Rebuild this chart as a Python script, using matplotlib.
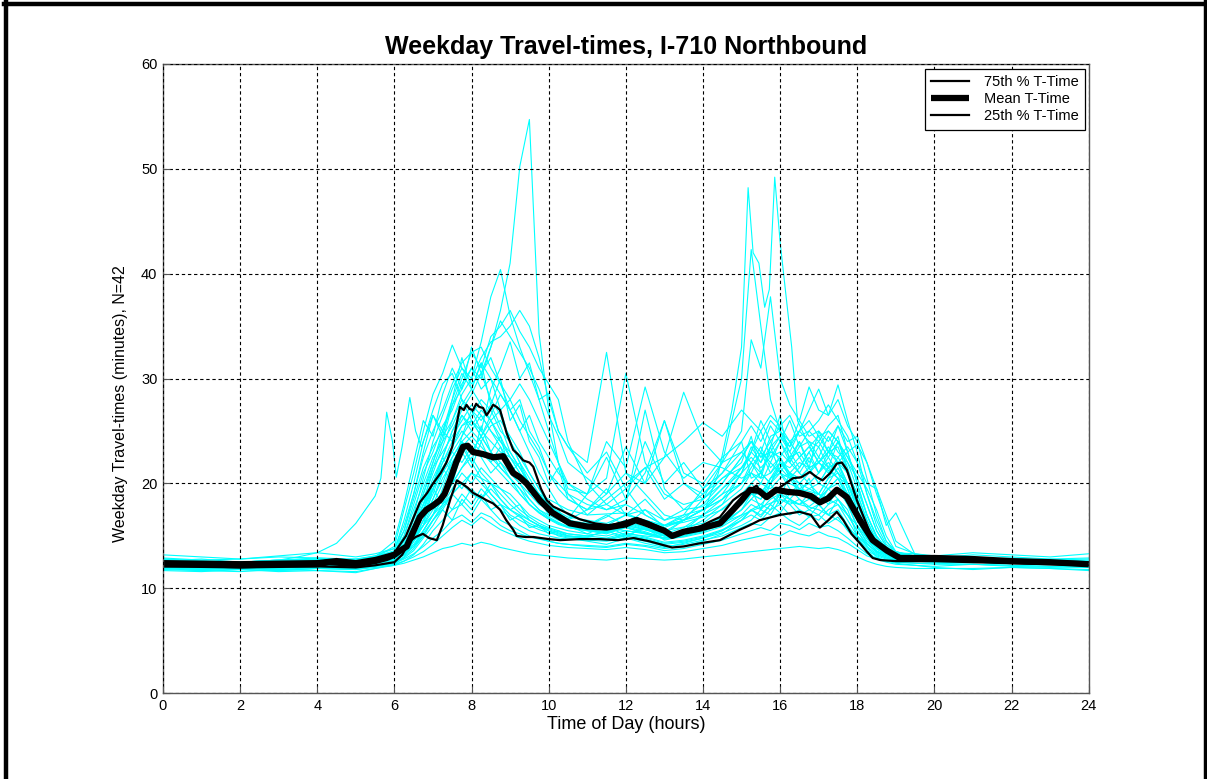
import matplotlib
matplotlib.use('Agg')
import matplotlib.pyplot as plt
from matplotlib.lines import Line2D

plt.rcParams['font.family'] = ['Liberation Sans', 'DejaVu Sans']

# hours shared by the individual weekday traces
trace_hours = [0, 1, 2, 3, 4, 5, 5.5,
               6, 6.25, 6.5, 6.75, 7, 7.25, 7.5, 7.75, 8, 8.25, 8.5, 8.75, 9, 9.25, 9.5, 9.75, 10, 10.25, 10.5,
               11, 11.5, 12, 12.5, 13, 13.5, 14, 14.5, 15,
               15.25, 15.5, 15.75, 16, 16.25, 16.5, 16.75, 17, 17.25, 17.5, 17.75, 18, 18.25, 18.5, 18.75, 19,
               19.5, 20, 21, 22, 23, 24]

# one row per weekday (minutes)
day_traces = [
    [12.5, 12.3, 12.2, 12.4, 12.6, 12.3, 12.7,
     13.2, 14.5, 17.0, 20.5, 24.0, 26.5, 29.0, 31.0, 30.0, 33.5, 37.8, 40.4, 36.0, 33.0, 30.5, 28.0, 25.0, 22.0, 19.5,
     19.0, 22.5, 18.5, 24.0, 20.0, 22.0, 19.5, 21.0, 23.0,
     22.0, 21.0, 23.0, 22.5, 21.0, 22.0, 21.5, 20.0, 21.5, 22.0, 19.5, 17.0, 15.0, 14.0, 13.4, 13.1,
     12.9, 12.8, 12.7, 12.6, 12.5, 12.3],
    [12.2, 12.0, 12.1, 12.3, 12.2, 12.1, 12.5,
     12.8, 13.5, 15.5, 18.0, 21.5, 24.0, 27.5, 30.0, 32.5, 31.0, 34.0, 35.0, 36.5, 34.5, 33.0, 31.0, 29.5, 28.0, 24.0,
     20.0, 18.0, 19.5, 17.0, 16.0, 16.5, 17.5, 18.5, 21.0,
     23.5, 22.0, 24.5, 25.0, 23.0, 21.5, 23.0, 24.0, 22.5, 21.0, 20.0, 18.0, 16.0, 14.5, 13.6, 13.2,
     13.0, 12.9, 12.8, 12.6, 12.4, 12.3],
    [12.7, 12.5, 12.4, 12.6, 12.8, 12.6, 13.0,
     14.0, 17.5, 21.0, 25.0, 28.5, 30.5, 33.2, 31.0, 29.5, 30.5, 28.0, 26.5, 24.0, 22.5, 21.0, 19.5, 18.0, 17.0, 16.5,
     16.0, 15.5, 16.5, 15.8, 15.0, 15.2, 15.8, 16.5, 18.0,
     19.0, 18.5, 20.0, 21.0, 19.5, 18.5, 17.8, 18.5, 19.5, 20.0, 18.5, 16.5, 14.8, 13.8, 13.3, 13.0,
     12.8, 12.7, 12.6, 12.5, 12.4, 12.3],
    [12.4, 12.2, 12.3, 12.2, 12.5, 12.4, 12.6,
     13.0, 14.0, 16.0, 19.0, 22.0, 24.5, 26.0, 28.5, 30.0, 32.0, 33.5, 34.0, 35.0, 36.5, 35.0, 32.0, 28.0, 25.0, 23.5,
     22.0, 32.5, 21.0, 19.0, 17.0, 16.5, 17.0, 18.0, 19.5,
     21.0, 23.0, 22.0, 24.0, 22.5, 23.0, 21.5, 22.0, 23.5, 22.0, 20.0, 17.5, 15.5, 14.2, 13.5, 13.1,
     12.9, 12.8, 12.7, 12.5, 12.4, 12.2],
    [12.3, 12.1, 12.2, 12.1, 12.3, 12.2, 12.4,
     12.9, 14.0, 16.5, 19.5, 22.0, 25.0, 27.5, 29.0, 31.0, 29.0, 30.0, 28.5, 27.0, 25.0, 26.5, 24.0, 22.5, 21.0, 20.0,
     19.0, 20.5, 30.5, 22.0, 19.0, 18.0, 18.5, 20.0, 22.5,
     24.0, 23.0, 25.5, 24.0, 22.0, 23.5, 25.0, 24.0, 25.5, 26.5, 23.0, 20.0, 17.0, 15.0, 13.8, 13.3,
     13.0, 12.9, 12.8, 12.7, 12.5, 12.4],
    [12.8, 12.6, 12.5, 12.7, 12.9, 12.7, 13.1,
     13.8, 16.0, 19.0, 22.5, 25.0, 27.0, 29.5, 31.5, 32.5, 33.0, 31.0, 29.5, 28.0, 26.0, 24.5, 23.0, 21.0, 20.0, 19.0,
     18.0, 17.5, 18.5, 21.0, 26.0, 20.0, 19.0, 21.0, 24.0,
     25.5, 24.0, 26.0, 25.0, 23.5, 26.0, 29.2, 27.0, 26.5, 29.4, 26.0, 23.0, 19.0, 16.0, 14.2, 13.5,
     13.1, 13.0, 12.9, 12.7, 12.6, 12.5],
    [12.1, 11.9, 12.0, 11.9, 12.1, 12.0, 12.3,
     12.7, 13.5, 15.0, 17.5, 20.0, 22.5, 25.0, 27.0, 28.5, 30.5, 33.0, 35.5, 34.0, 32.5, 31.0, 29.0, 26.5, 24.5, 22.0,
     20.5, 19.0, 21.0, 20.0, 22.5, 28.7, 24.0, 22.0, 23.0,
     24.0, 22.5, 23.0, 24.5, 23.5, 25.0, 24.0, 23.5, 25.0, 24.0, 22.0, 19.5, 17.0, 15.0, 13.8, 13.2,
     12.9, 12.8, 12.7, 12.5, 12.4, 12.3],
    [12.5, 12.4, 12.3, 12.5, 12.4, 12.3, 12.6,
     13.0, 14.0, 16.0, 18.5, 21.0, 23.5, 26.0, 28.0, 27.0, 26.0, 27.5, 25.5, 23.0, 21.5, 20.0, 18.5, 17.5, 16.8, 16.2,
     15.8, 15.5, 16.2, 15.6, 15.0, 15.3, 15.8, 16.5, 18.5,
     20.0, 19.0, 20.5, 21.0, 20.0, 19.5, 19.0, 18.5, 20.0, 21.5, 19.5, 17.0, 15.0, 13.9, 13.3, 13.0,
     12.9, 12.8, 12.7, 12.6, 12.5, 12.4],
    [12.0, 11.8, 11.9, 11.8, 12.0, 11.9, 12.2,
     12.6, 13.2, 14.5, 16.5, 18.5, 21.0, 23.5, 25.5, 26.5, 28.0, 27.0, 25.0, 24.0, 22.0, 20.5, 19.0, 18.0, 17.0, 16.5,
     17.5, 19.0, 23.5, 20.0, 26.0, 21.0, 20.0, 22.5, 24.0,
     20.5, 21.0, 20.0, 21.5, 22.5, 21.0, 20.0, 21.0, 22.0, 21.0, 20.0, 18.5, 16.0, 14.5, 13.6, 13.1,
     12.8, 12.7, 12.6, 12.4, 12.3, 12.2],
    [12.6, 12.5, 12.4, 12.6, 12.7, 12.5, 12.9,
     13.3, 15.0, 17.5, 20.0, 22.5, 24.0, 25.5, 27.5, 29.0, 27.5, 26.0, 24.5, 22.5, 21.5, 20.0, 19.0, 17.8, 17.2, 16.6,
     19.0, 24.0, 21.5, 29.2, 23.0, 20.5, 22.0, 21.5, 20.5,
     21.0, 20.0, 22.0, 21.0, 20.5, 20.0, 19.5, 19.0, 20.5, 22.0, 20.0, 18.0, 15.8, 14.3, 13.5, 13.1,
     12.9, 12.8, 12.7, 12.6, 12.5, 12.4],
    [12.3, 12.2, 12.1, 12.3, 12.2, 12.1, 12.4,
     12.9, 13.6, 15.0, 17.0, 19.5, 22.0, 24.0, 26.5, 25.0, 24.0, 25.5, 26.0, 24.5, 23.0, 21.0, 19.5, 18.0, 17.2, 16.5,
     16.0, 15.6, 16.3, 15.7, 15.0, 15.2, 15.6, 16.3, 17.5,
     18.5, 18.0, 19.0, 19.5, 18.5, 19.5, 20.0, 19.0, 20.5, 21.0, 19.0, 16.5, 14.8, 13.8, 13.2, 12.9,
     12.8, 12.7, 12.6, 12.5, 12.4, 12.3],
    [12.4, 12.3, 12.4, 12.2, 12.5, 12.3, 12.6,
     13.1, 14.5, 16.8, 19.0, 21.5, 23.0, 24.5, 26.0, 27.5, 26.5, 25.0, 23.5, 22.0, 20.5, 19.5, 18.5, 17.5, 16.9, 16.4,
     16.0, 16.8, 18.0, 27.0, 19.5, 17.5, 17.8, 19.5, 21.5,
     22.5, 21.5, 22.5, 23.0, 22.0, 21.0, 22.5, 21.0, 23.0, 23.5, 21.0, 18.5, 16.0, 14.5, 13.5, 13.0,
     12.8, 12.8, 12.7, 12.5, 12.4, 12.3],
    [12.6, 12.4, 12.5, 12.6, 12.5, 12.4, 12.7,
     13.4, 15.5, 18.5, 21.5, 23.5, 25.0, 24.0, 25.5, 26.0, 24.5, 23.0, 22.0, 21.0, 20.0, 18.5, 17.5, 16.8, 16.3, 15.9,
     15.6, 15.3, 15.9, 15.4, 14.8, 15.0, 15.5, 16.0, 17.5,
     18.5, 19.5, 19.0, 18.0, 19.0, 20.0, 18.5, 18.0, 19.0, 19.5, 18.0, 15.8, 14.5, 13.6, 13.1, 12.9,
     12.8, 12.7, 12.6, 12.5, 12.4, 12.3],
    [12.2, 12.1, 12.0, 12.2, 12.1, 12.0, 12.3,
     12.7, 13.3, 14.5, 16.0, 18.0, 20.0, 22.5, 24.0, 23.0, 24.5, 26.5, 28.5, 27.0, 25.0, 23.0, 21.0, 19.5, 18.0, 17.0,
     16.3, 15.9, 16.4, 15.8, 15.1, 15.4, 15.9, 16.8, 18.0,
     19.0, 18.5, 20.5, 21.5, 20.5, 19.0, 19.5, 20.0, 19.5, 20.5, 20.0, 17.5, 15.5, 14.0, 13.3, 13.0,
     12.8, 12.7, 12.6, 12.4, 12.3, 12.2],
    [12.5, 12.3, 12.4, 12.3, 12.6, 12.4, 12.7,
     13.2, 14.2, 16.0, 18.0, 19.5, 21.5, 23.0, 22.0, 23.5, 22.5, 21.0, 22.0, 20.5, 19.5, 18.0, 17.2, 16.6, 16.1, 15.8,
     15.5, 15.2, 15.8, 15.3, 14.7, 14.9, 15.3, 15.9, 17.0,
     18.0, 17.5, 18.5, 19.0, 18.0, 18.5, 17.5, 17.0, 18.0, 18.5, 17.0, 15.5, 14.2, 13.5, 13.0, 12.8,
     12.7, 12.7, 12.6, 12.5, 12.4, 12.3],
    [12.7, 12.6, 12.5, 12.7, 12.8, 12.6, 13.0,
     13.6, 16.5, 20.0, 24.0, 27.0, 29.5, 30.5, 28.0, 26.0, 24.5, 23.0, 21.5, 20.5, 19.0, 18.0, 17.3, 16.7, 16.2, 15.8,
     15.5, 15.3, 15.8, 15.2, 14.8, 15.0, 15.4, 16.2, 17.5,
     19.0, 20.0, 19.5, 20.5, 21.0, 20.5, 21.5, 20.0, 21.5, 20.5, 18.5, 16.5, 14.8, 13.8, 13.2, 12.9,
     12.8, 12.7, 12.6, 12.5, 12.4, 12.3],
    [12.3, 12.2, 12.1, 12.2, 12.4, 12.2, 12.5,
     12.9, 13.8, 15.5, 17.5, 20.0, 21.5, 23.0, 24.5, 26.0, 25.0, 24.0, 23.0, 22.5, 21.0, 20.0, 19.0, 18.5, 18.0, 17.5,
     17.0, 18.5, 20.0, 21.5, 22.5, 24.0, 25.8, 24.5, 27.0,
     26.0, 25.0, 26.5, 25.5, 24.0, 25.0, 26.0, 24.5, 25.0, 24.0, 22.5, 20.5, 18.0, 15.5, 14.0, 13.3,
     13.0, 12.9, 12.8, 12.6, 12.5, 12.4],
    [12.6, 12.4, 12.5, 12.4, 12.7, 12.5, 12.8,
     13.2, 14.0, 15.8, 18.0, 20.5, 22.5, 25.0, 26.5, 25.5, 27.0, 26.0, 24.0, 22.5, 21.0, 19.5, 18.5, 17.6, 17.0, 16.5,
     16.2, 16.0, 17.0, 16.5, 16.0, 16.5, 17.5, 19.0, 21.5,
     23.0, 22.0, 23.5, 24.5, 23.0, 25.0, 27.0, 29.0, 26.5, 28.0, 25.5, 24.0, 20.5, 17.0, 14.5, 13.5,
     13.0, 12.9, 12.8, 12.7, 12.6, 12.4],
    [12.1, 12.0, 11.9, 12.1, 12.0, 11.9, 12.2,
     12.5, 13.0, 13.8, 15.0, 16.5, 18.0, 19.5, 21.0, 20.0, 21.5, 20.5, 19.5, 18.5, 17.5, 16.8, 16.2, 15.8, 15.5, 15.2,
     15.0, 14.8, 15.3, 14.9, 14.4, 14.6, 15.0, 15.6, 16.5,
     17.0, 16.5, 17.5, 18.0, 17.0, 17.5, 17.0, 16.5, 17.5, 18.0, 16.5, 15.0, 14.0, 13.3, 12.9, 12.7,
     12.6, 12.6, 12.5, 12.4, 12.3, 12.2],
    [12.4, 12.3, 12.2, 12.4, 12.3, 12.2, 12.5,
     12.8, 13.5, 14.8, 16.5, 18.0, 19.0, 20.5, 19.5, 21.0, 20.0, 19.0, 18.0, 17.0, 16.5, 16.0, 15.6, 15.3, 15.1, 14.9,
     14.8, 14.6, 15.0, 14.7, 14.2, 14.4, 14.8, 15.3, 16.0,
     16.5, 17.5, 17.0, 18.5, 18.0, 17.0, 17.5, 18.0, 17.0, 17.5, 16.0, 14.8, 13.8, 13.2, 12.9, 12.7,
     12.6, 12.6, 12.5, 12.4, 12.3, 12.2],
    [12.5, 12.4, 12.3, 12.5, 12.6, 12.4, 12.7,
     13.0, 13.8, 15.0, 16.0, 17.5, 18.5, 17.5, 19.0, 18.0, 19.5, 18.5, 17.5, 16.8, 16.0, 15.5, 15.2, 15.0, 14.8, 14.7,
     14.6, 14.5, 14.8, 14.5, 14.0, 14.2, 14.6, 15.0, 15.8,
     16.2, 16.0, 16.8, 17.2, 16.5, 16.0, 16.8, 17.0, 16.2, 16.8, 15.5, 14.5, 13.6, 13.1, 12.8, 12.7,
     12.6, 12.5, 12.5, 12.4, 12.3, 12.3],
    [11.8, 11.7, 11.6, 11.8, 11.7, 11.6, 11.9,
     12.2, 12.6, 13.2, 14.2, 15.5, 16.5, 17.5, 18.0, 17.0, 18.5, 17.5, 16.5, 16.0, 15.5, 15.0, 14.8, 14.5, 14.3, 14.2,
     14.0, 13.9, 14.2, 14.0, 13.6, 13.8, 14.2, 14.6, 15.2,
     15.5, 15.8, 15.5, 16.2, 16.0, 15.6, 16.2, 15.8, 16.0, 15.5, 14.8, 14.0, 13.3, 12.9, 12.7, 12.5,
     12.4, 12.4, 12.3, 12.2, 12.1, 12.0],
    [12.4, 12.3, 12.2, 12.3, 12.5, 12.3, 12.6,
     12.9, 13.6, 14.8, 16.0, 17.0, 18.5, 20.0, 21.5, 22.5, 21.0, 20.0, 19.0, 18.0, 17.2, 16.5, 16.0, 15.6, 15.3, 15.0,
     14.8, 14.6, 15.2, 15.0, 14.8, 15.5, 16.5, 18.0, 21.0,
     23.0, 26.0, 24.0, 22.0, 21.0, 20.5, 21.5, 22.0, 21.0, 22.5, 23.5, 22.0, 20.0, 19.5, 16.0, 17.2,
     13.2, 13.0, 12.8, 12.6, 12.5, 12.4],
    [12.2, 12.1, 12.0, 12.2, 12.3, 12.1, 12.4,
     12.7, 13.2, 14.0, 15.5, 17.0, 19.5, 22.0, 23.5, 22.0, 20.5, 19.0, 18.0, 17.5, 16.8, 16.2, 15.8, 15.5, 15.2, 15.0,
     14.8, 14.7, 15.1, 14.8, 14.3, 14.5, 14.9, 15.5, 16.5,
     17.5, 17.0, 18.0, 19.0, 18.5, 18.0, 19.0, 18.5, 19.5, 20.5, 19.0, 17.5, 15.0, 13.8, 13.2, 12.9,
     12.7, 12.6, 12.5, 12.4, 12.3, 12.2],
    [12.0, 11.9, 11.8, 12.0, 11.9, 11.8, 12.1,
     12.3, 12.6, 13.0, 13.5, 14.2, 15.0, 15.8, 16.5, 16.0, 16.8, 16.2, 15.6, 15.2, 14.8, 14.5, 14.3, 14.1, 14.0, 13.9,
     13.8, 13.7, 13.9, 13.7, 13.4, 13.5, 13.8, 14.1, 14.6,
     14.8, 15.0, 15.2, 15.0, 15.5, 15.2, 15.0, 15.4, 15.0, 14.8, 14.3, 13.7, 13.1, 12.8, 12.6, 12.5,
     12.4, 12.3, 12.3, 12.2, 12.1, 12.0],
    [11.9, 11.7, 11.8, 11.7, 11.9, 11.8, 12.0,
     12.2, 12.4, 12.7, 13.0, 13.4, 13.8, 14.0, 14.3, 14.1, 14.4, 14.2, 13.9, 13.7, 13.5, 13.3, 13.2, 13.1, 13.0, 12.9,
     12.8, 12.7, 12.9, 12.8, 12.7, 12.8, 13.0, 13.2, 13.4,
     13.5, 13.6, 13.7, 13.8, 13.9, 14.0, 13.9, 13.8, 13.9, 13.7, 13.4, 13.0, 12.6, 12.3, 12.1, 12.0,
     11.9, 11.9, 11.9, 12.0, 11.9, 11.8],
    [12.6, 12.5, 12.4, 12.6, 12.5, 12.4, 12.7,
     13.0, 13.6, 14.5, 15.5, 17.0, 18.0, 19.0, 20.0, 19.0, 18.5, 19.5, 18.5, 17.5, 17.0, 16.5, 16.0, 15.7, 15.4, 15.2,
     15.0, 15.4, 16.0, 15.6, 15.2, 15.8, 17.0, 18.5, 20.0,
     21.0, 20.5, 21.0, 22.0, 21.5, 22.5, 21.0, 22.0, 23.0, 22.0, 23.0, 23.7, 22.0, 19.5, 17.0, 14.5,
     13.2, 12.9, 12.8, 12.7, 12.6, 12.5],
    [12.3, 12.2, 12.3, 12.1, 12.3, 12.2, 12.5,
     12.8, 13.3, 14.2, 15.5, 17.0, 18.5, 20.0, 21.5, 23.0, 24.5, 26.0, 27.0, 28.0, 29.5, 28.0, 26.0, 24.0, 22.0, 20.0,
     18.5, 17.5, 18.0, 17.0, 16.0, 16.3, 16.8, 17.5, 19.0,
     20.0, 21.0, 20.0, 22.0, 21.0, 20.0, 21.0, 22.5, 21.5, 22.0, 21.0, 19.0, 16.5, 14.5, 13.5, 13.0,
     12.8, 12.7, 12.6, 12.5, 12.4, 12.3],
    [12.5, 12.4, 12.3, 12.4, 12.6, 12.4, 12.7,
     13.1, 14.0, 15.8, 18.0, 20.0, 22.0, 23.5, 25.0, 24.0, 23.0, 22.0, 21.0, 20.0, 19.0, 18.0, 17.2, 16.6, 16.2, 15.9,
     15.6, 15.4, 16.0, 15.6, 15.4, 16.5, 18.5, 22.0, 30.0,
     42.3, 35.0, 28.0, 25.0, 24.0, 22.5, 23.5, 22.0, 23.0, 22.5, 21.0, 18.5, 16.0, 14.2, 13.4, 13.0,
     12.9, 12.8, 12.7, 12.6, 12.5, 12.4],
    [12.2, 12.1, 12.2, 12.0, 12.2, 12.1, 12.4,
     12.7, 13.4, 14.6, 16.5, 18.5, 20.5, 22.0, 23.5, 24.5, 23.5, 22.5, 21.5, 20.5, 19.5, 18.5, 17.5, 17.0, 16.5, 16.2,
     16.0, 15.8, 16.5, 16.2, 16.0, 17.0, 19.5, 22.0, 25.0,
     33.7, 31.0, 37.8, 30.0, 27.5, 26.0, 24.5, 25.0, 24.0, 25.5, 23.0, 20.0, 17.0, 14.8, 13.6, 13.1,
     12.9, 12.8, 12.7, 12.5, 12.4, 12.3],
    [12.4, 12.2, 12.3, 12.3, 12.4, 12.3, 12.5,
     12.9, 13.8, 15.5, 17.5, 19.5, 21.0, 22.5, 24.0, 25.0, 26.5, 25.0, 24.0, 23.0, 21.5, 20.0, 19.0, 18.0, 17.3, 16.8,
     16.5, 16.2, 17.0, 16.5, 16.0, 16.8, 18.0, 20.0, 22.5,
     24.0, 22.5, 24.0, 25.5, 26.5, 24.5, 25.0, 26.0, 27.5, 26.0, 24.5, 22.0, 19.0, 16.5, 14.5, 13.5,
     13.0, 12.9, 12.8, 12.6, 12.5, 12.4],
    [12.0, 11.9, 12.0, 11.9, 12.1, 12.0, 12.2,
     12.4, 12.8, 13.3, 14.0, 14.8, 15.5, 16.5, 17.0, 16.3, 17.2, 16.8, 16.0, 15.5, 15.2, 14.9, 14.7, 14.5, 14.3, 14.2,
     14.1, 14.0, 14.3, 14.1, 13.8, 14.0, 14.5, 15.2, 16.5,
     17.5, 18.0, 17.5, 19.0, 18.5, 18.0, 18.5, 19.0, 18.0, 19.5, 18.0, 16.0, 14.3, 13.4, 13.0, 12.8,
     12.6, 12.5, 12.5, 12.4, 12.3, 12.2],
    [13.2, 13.0, 12.8, 13.1, 13.4, 13.0, 13.3,
     13.8, 15.5, 19.0, 23.0, 26.5, 24.5, 28.0, 32.0, 29.0, 31.5, 27.5, 30.0, 26.0, 27.5, 24.0, 22.5, 20.0, 21.5, 18.5,
     17.5, 19.5, 17.0, 18.5, 16.5, 17.5, 19.0, 20.5, 22.0,
     24.5, 21.0, 23.5, 26.5, 22.0, 24.0, 21.5, 25.0, 23.0, 24.5, 21.0, 19.0, 16.5, 14.5, 13.8, 13.4,
     13.3, 13.1, 13.4, 13.2, 13.0, 13.3],
    [11.7, 11.6, 11.8, 11.6, 11.7, 11.5, 11.9,
     12.3, 13.0, 14.5, 16.0, 19.5, 18.0, 21.5, 24.0, 22.0, 25.5, 23.0, 24.5, 21.0, 22.0, 19.0, 18.5, 17.0, 17.5, 16.0,
     15.2, 16.0, 15.0, 15.8, 14.6, 15.0, 15.6, 16.8, 18.0,
     19.5, 17.5, 20.0, 18.5, 21.0, 19.0, 20.5, 18.0, 19.5, 18.5, 17.5, 15.0, 13.5, 12.8, 12.5, 12.3,
     12.2, 12.0, 11.8, 12.0, 11.9, 11.7],
    [12.9, 12.7, 12.8, 13.0, 12.9, 12.8, 13.1,
     13.5, 14.2, 16.0, 17.5, 20.0, 22.5, 21.0, 24.5, 27.0, 25.0, 29.0, 31.0, 33.5, 30.0, 31.5, 28.0, 28.6, 25.0, 23.5,
     21.0, 23.0, 19.5, 21.5, 18.5, 20.0, 18.5, 20.5, 21.5,
     23.0, 25.0, 22.5, 24.0, 26.0, 23.5, 24.0, 22.5, 24.5, 23.0, 22.0, 20.5, 18.0, 15.5, 14.0, 13.4,
     13.1, 12.9, 13.2, 13.0, 12.8, 12.9],
    [12.3, 12.5, 12.2, 12.4, 12.7, 12.5, 12.6,
     12.9, 13.2, 14.0, 15.0, 16.5, 17.5, 16.5, 18.5, 17.5, 19.0, 17.5, 18.0, 16.5, 17.0, 15.8, 16.0, 15.2, 15.5, 15.0,
     14.9, 15.5, 14.8, 16.0, 15.2, 16.5, 17.5, 19.0, 20.0,
     22.0, 20.5, 23.5, 21.0, 22.5, 24.0, 22.0, 23.5, 21.5, 24.0, 22.5, 21.0, 19.5, 17.5, 15.0, 13.5,
     12.9, 12.7, 12.9, 12.6, 12.8, 12.6],
    [12.6, 12.8, 12.5, 12.7, 12.6, 12.8, 13.0,
     14.5, 18.0, 22.0, 26.0, 24.5, 28.5, 31.0, 29.0, 33.0, 30.5, 32.0, 29.5, 27.0, 28.0, 25.0, 23.5, 21.0, 19.5, 18.5,
     17.5, 18.0, 17.0, 17.5, 16.5, 17.0, 17.5, 18.5, 20.0,
     21.5, 23.0, 21.0, 22.5, 20.5, 21.5, 23.0, 21.0, 22.5, 24.0, 21.5, 18.5, 16.0, 14.2, 13.3, 13.0,
     12.8, 12.9, 12.7, 12.8, 12.6, 12.7],
    [11.9, 11.8, 12.0, 11.7, 11.9, 12.0, 12.1,
     12.4, 12.9, 13.6, 14.8, 16.0, 17.5, 19.0, 18.0, 19.5, 18.5, 20.0, 18.5, 17.5, 18.0, 16.5, 16.0, 15.5, 15.0, 14.8,
     14.5, 14.2, 14.8, 14.3, 13.9, 14.3, 14.8, 15.5, 16.8,
     17.5, 16.8, 18.0, 17.2, 18.5, 17.5, 16.8, 18.0, 17.0, 18.5, 17.0, 15.5, 14.0, 13.0, 12.6, 12.4,
     12.2, 12.1, 12.3, 12.1, 12.0, 12.1],
    [12.5, 12.6, 12.4, 12.3, 12.6, 12.4, 12.8,
     13.1, 14.0, 15.5, 17.0, 19.0, 21.5, 20.0, 23.0, 21.5, 24.0, 22.0, 23.5, 21.0, 20.0, 19.0, 18.0, 17.5, 17.0, 16.5,
     16.0, 17.0, 16.0, 17.5, 15.8, 16.5, 17.5, 19.5, 21.0,
     22.0, 23.5, 21.5, 22.5, 24.0, 22.5, 23.5, 24.5, 23.0, 25.5, 24.0, 24.5, 22.0, 19.0, 16.5, 14.0,
     13.3, 13.0, 12.8, 12.9, 12.7, 12.8],
]

# days that break away from the shared hours
am_spike_hours = [0, 2, 4, 5, 5.5, 6, 6.25, 6.5, 6.75, 7, 7.25, 7.5, 7.75, 8, 8.25, 8.5, 8.75, 9, 9.25, 9.5, 9.75,
                  10, 10.25, 10.5, 11, 12, 13, 14, 15, 15.5, 16, 16.5, 17, 17.5, 18, 18.5, 19, 19.5, 20, 22, 24]
am_spike_mins = [12.6, 12.3, 12.6, 12.4, 12.8, 13.5, 15.0, 18.0, 21.0, 23.0, 25.5, 27.0, 29.5, 31.0, 30.0, 33.0, 36.5,
                 41.0, 50.2, 54.7, 34.3, 27.0, 22.0, 19.0, 17.0, 17.2, 15.5, 16.2, 19.0, 19.0, 22.0, 19.5, 19.0, 18.0,
                 16.0, 13.5, 13.0, 12.9, 12.9, 12.6, 12.4]

early_hours = [0, 1, 2, 3, 3.5, 4, 4.5, 5, 5.25, 5.5, 5.65, 5.8, 5.95, 6.05, 6.2, 6.4, 6.55, 6.7, 7, 7.25,
               7.5, 7.75, 8, 8.25, 8.5, 8.75, 9, 9.5, 10, 10.5, 11, 12, 13, 14, 15, 16, 17, 17.5, 18, 18.5,
               19, 19.5, 20, 22, 24]
early_mins = [12.8, 12.6, 12.5, 12.7, 13.0, 13.4, 14.3, 16.2, 17.5, 18.8, 20.5, 26.8, 24.0, 20.6, 23.5, 28.2, 25.0,
              23.5, 26.5, 25.0, 28.0, 30.5, 29.0, 31.5, 30.0, 27.0, 24.0, 20.0, 17.5, 16.5, 16.0, 15.5, 15.0, 15.5,
              17.0, 18.5, 17.5, 16.5, 15.0, 13.5, 13.0, 12.8, 12.7, 12.6, 12.5]

pm_spike_hours = [0, 2, 4, 5, 5.5, 6, 6.5, 7, 7.5, 8, 8.5, 9, 9.5, 10, 10.5, 11, 11.5, 12, 12.5, 13,
                  13.5, 14, 14.4, 14.75, 15.0, 15.17, 15.3, 15.45, 15.6, 15.72, 15.86, 16.0, 16.15, 16.3, 16.45,
                  16.7, 17, 17.5, 18, 18.5, 19, 19.5, 20, 22, 24]
pm_spike_mins = [12.4, 12.2, 12.5, 12.3, 12.6, 13.0, 14.0, 16.5, 19.0, 21.0, 20.0, 19.0, 17.0, 16.0, 15.5, 15.2,
                 15.0, 15.5, 15.2, 14.8, 15.5, 17.0, 21.0, 27.0, 33.0, 48.2, 42.0, 41.0, 36.8, 38.5, 49.2, 43.0,
                 38.0, 33.0, 26.0, 24.0, 22.0, 20.5, 17.0, 14.0, 13.0, 12.8, 12.7, 12.5, 12.4]

# summary curves
p75_hours = [0, 2, 4, 4.5, 5, 5.5, 6.0, 6.3, 6.66, 6.85, 7.0, 7.2, 7.35, 7.5, 7.7, 7.8, 7.87, 7.95, 8.04, 8.12,
             8.2, 8.3, 8.39, 8.48, 8.56, 8.65, 8.74, 8.91, 9.08, 9.2, 9.34, 9.5, 9.6, 9.8, 9.95, 10.12, 10.46,
             10.8, 11.2, 11.6, 12.0, 12.3, 12.6, 13.0, 13.3, 13.6, 13.92, 14.2, 14.44, 14.78, 15.0, 15.22, 15.39,
             15.52, 15.65, 15.9, 16.1, 16.33, 16.55, 16.77, 16.95, 17.1, 17.3, 17.47, 17.6, 17.73, 17.99, 18.33,
             18.59, 18.9, 19.2, 20, 22, 24]
p75_mins = [12.6, 12.5, 12.6, 12.8, 12.6, 12.9, 13.4, 15.0, 18.2, 19.1, 20.0, 21.0, 22.0, 23.5, 27.3, 27.0, 27.5,
            27.1, 27.0, 27.6, 27.3, 27.2, 26.5, 27.0, 27.5, 27.3, 27.0, 24.8, 23.2, 22.8, 22.2, 22.0, 21.6, 19.5,
            18.4, 17.8, 17.2, 16.6, 16.2, 16.0, 16.4, 16.7, 16.3, 15.6, 15.0, 15.6, 15.9, 16.4, 16.8, 18.4, 19.0,
            19.4, 19.8, 19.0, 18.7, 19.4, 19.9, 20.5, 20.6, 21.1, 20.6, 20.3, 21.0, 21.9, 22.0, 21.3, 18.4, 15.3,
            13.9, 13.3, 13.0, 12.9, 12.7, 12.5]

mean_hours = [0, 1, 2, 3, 4, 4.3, 4.7, 5, 5.5, 5.8, 6.0, 6.15, 6.32, 6.5, 6.66, 6.83, 7.0, 7.18, 7.3, 7.44,
              7.6, 7.78, 7.9, 8.04, 8.3, 8.56, 8.82, 9.08, 9.25, 9.43, 9.6, 9.77, 10.1, 10.55, 11.0, 11.5, 12.0,
              12.25, 12.5, 13.0, 13.2, 13.5, 13.92, 14.44, 14.78, 15.0, 15.22, 15.45, 15.65, 15.9, 16.2, 16.5,
              16.8, 17.03, 17.25, 17.47, 17.73, 18.07, 18.4, 18.77, 19.1, 19.5, 20, 21, 22, 23, 24]
mean_mins = [12.3, 12.3, 12.2, 12.3, 12.3, 12.5, 12.4, 12.3, 12.6, 12.9, 13.2, 13.6, 14.0, 15.5, 16.8, 17.5, 17.9,
             18.4, 19.0, 20.3, 22.0, 23.5, 23.6, 23.0, 22.8, 22.5, 22.6, 21.0, 20.6, 20.0, 19.2, 18.4, 17.2, 16.2,
             15.9, 15.8, 16.1, 16.5, 16.2, 15.5, 15.0, 15.4, 15.7, 16.2, 17.5, 18.4, 19.4, 19.3, 18.7, 19.4, 19.2,
             19.1, 18.8, 18.2, 18.6, 19.4, 18.7, 16.5, 14.6, 13.6, 12.9, 12.9, 12.9, 12.8, 12.6, 12.5, 12.3]

p25_hours = [0, 2, 4, 5, 5.5, 6.0, 6.2, 6.4, 6.55, 6.74, 6.9, 7.1, 7.25, 7.45, 7.62, 7.75, 7.9, 8.04, 8.2, 8.39,
             8.56, 8.74, 8.9, 9.08, 9.17, 9.4, 9.6, 10.0, 10.3, 10.8, 11.3, 11.8, 12.2, 12.6, 13.0, 13.2, 13.5,
             13.92, 14.44, 14.96, 15.2, 15.47, 15.99, 16.5, 16.8, 17.03, 17.25, 17.47, 17.64, 17.85, 18.07, 18.25,
             18.4, 18.6, 19.0, 20, 22, 24]
p25_mins = [12.1, 12.0, 12.1, 12.0, 12.2, 12.5, 13.2, 14.5, 14.9, 15.2, 14.8, 14.6, 16.0, 18.5, 20.3, 20.0, 19.6,
            19.1, 18.8, 18.4, 18.1, 17.5, 16.5, 15.6, 15.0, 14.9, 14.9, 14.7, 14.6, 14.7, 14.7, 14.6, 14.8, 14.5,
            14.1, 13.9, 14.0, 14.3, 14.6, 15.6, 16.0, 16.5, 17.0, 17.3, 17.0, 15.8, 16.5, 17.3, 16.5, 15.2, 14.3,
            13.5, 12.9, 12.7, 12.6, 12.6, 12.4, 12.2]

fig = plt.figure(figsize=(12.07, 7.79), dpi=100)
ax = fig.add_axes([0.135, 0.110, 0.767, 0.808])

cyan_kw = dict(color='cyan', linewidth=0.8)
for day in day_traces:
    ax.plot(trace_hours, day, **cyan_kw)
ax.plot(am_spike_hours, am_spike_mins, **cyan_kw)
ax.plot(early_hours, early_mins, **cyan_kw)
ax.plot(pm_spike_hours, pm_spike_mins, **cyan_kw)

l75, = ax.plot(p75_hours, p75_mins, color='black', linewidth=1.6, label='75th % T-Time')
l25, = ax.plot(p25_hours, p25_mins, color='black', linewidth=1.6, label='25th % T-Time')
lmean, = ax.plot(mean_hours, mean_mins, color='black', linewidth=4.5, solid_capstyle='butt', label='Mean T-Time')

ax.set_xlim(0, 24)
ax.set_ylim(0, 60)
ax.set_xticks(range(0, 25, 2))
ax.set_yticks(range(0, 61, 10))
ax.tick_params(direction='in', length=5, width=0.8, color='#555555', labelsize=10.5, pad=4)
for s in ax.spines.values():
    s.set_color('#555555')
    s.set_linewidth(1.0)
ax.grid(True, color='black', linestyle=(0, (3, 2.5)), linewidth=0.8)
ax.set_axisbelow(False)

ax.set_title('Weekday Travel-times, I-710 Northbound', fontsize=18, fontweight='bold', pad=7)
ax.set_xlabel('Time of Day (hours)', fontsize=13, labelpad=2)
ax.set_ylabel('Weekday Travel-times (minutes), N=42', fontsize=11.5, labelpad=8)
ax.yaxis.set_label_coords(-0.038, 0.46)

leg = ax.legend([l75, lmean, l25], ['75th % T-Time', 'Mean T-Time', '25th % T-Time'],
                loc='upper right', bbox_to_anchor=(0.996, 0.992), borderaxespad=0, fontsize=10.5,
                fancybox=False, framealpha=1, edgecolor='black', handlelength=2.6,
                borderpad=0.45, labelspacing=0.2, handletextpad=1.0)
leg.get_frame().set_linewidth(0.9)

# page frame around the figure
for xs, ys in [([0.005, 0.005], [0, 0.997]), ([0.003, 0.9988], [0.9949, 0.9949]), ([0.9988, 0.9988], [0, 0.997])]:
    fig.add_artist(Line2D(xs, ys, color='black', linewidth=3.2, transform=fig.transFigure))

plt.savefig('out.png', dpi=100)
